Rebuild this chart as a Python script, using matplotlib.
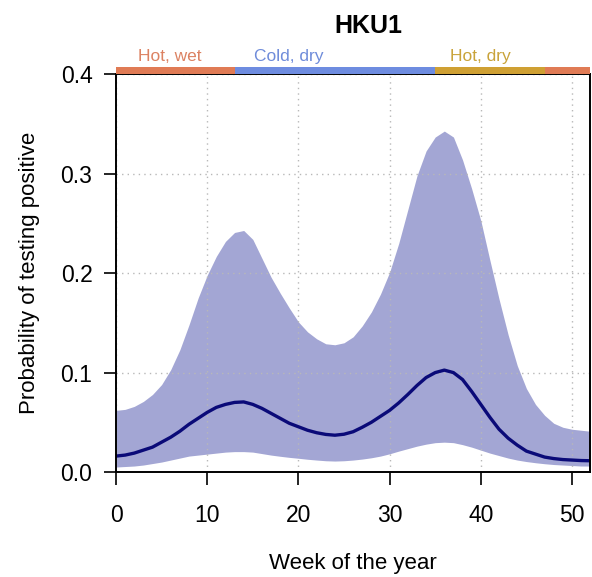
import matplotlib

matplotlib.use("Agg")
import matplotlib.pyplot as plt
from matplotlib.patches import Rectangle

plt.rcParams["font.family"] = ["Liberation Sans", "DejaVu Sans"]

# one value per week of the year
WEEKS = list(range(53))
UPPER = [
    0.062, 0.063, 0.066, 0.071, 0.078, 0.088, 0.103, 0.123, 0.148, 0.175,
    0.198, 0.217, 0.232, 0.241, 0.243, 0.234, 0.215, 0.196, 0.180, 0.165,
    0.151, 0.141, 0.134, 0.129, 0.128, 0.130, 0.136, 0.147, 0.161, 0.179,
    0.201, 0.230, 0.264, 0.298, 0.323, 0.337, 0.343, 0.337, 0.314, 0.285,
    0.253, 0.213, 0.174, 0.138, 0.107, 0.084, 0.068, 0.057, 0.049, 0.045,
    0.043, 0.042, 0.041,
]
MEAN = [
    0.016, 0.017, 0.019, 0.022, 0.025, 0.030, 0.035, 0.041, 0.048, 0.054,
    0.060, 0.065, 0.068, 0.070, 0.0705, 0.068, 0.064, 0.059, 0.054, 0.049,
    0.0455, 0.042, 0.0395, 0.0378, 0.037, 0.038, 0.0405, 0.045, 0.050, 0.056,
    0.062, 0.0695, 0.078, 0.087, 0.095, 0.100, 0.1025, 0.100, 0.093, 0.081,
    0.068, 0.055, 0.043, 0.034, 0.027, 0.021, 0.018, 0.015, 0.0135, 0.0125,
    0.012, 0.0115, 0.0113,
]
LOWER = [
    0.005, 0.0055, 0.006, 0.007, 0.0085, 0.010, 0.012, 0.014, 0.016, 0.017,
    0.018, 0.019, 0.020, 0.0205, 0.0205, 0.020, 0.0185, 0.017, 0.0158, 0.0147,
    0.0138, 0.0128, 0.012, 0.0113, 0.011, 0.0113, 0.012, 0.013, 0.0143, 0.016,
    0.0183, 0.021, 0.0235, 0.026, 0.028, 0.0295, 0.030, 0.0295, 0.0275, 0.025,
    0.022, 0.019, 0.0165, 0.014, 0.012, 0.0105, 0.0093, 0.0083, 0.0075, 0.007,
    0.0065, 0.006, 0.006,
]

SEASON_START = [0, 13, 35, 47]
SEASON_END = [13, 35, 47, 52]
SEASON_COLOR = ["#E07B55", "#6E8CE0", "#CFA033", "#E07B55"]
SEASON_LABEL = ["Hot, wet", "Cold, dry", "Hot, dry"]
SEASON_LABEL_X = [5.9, 18.9, 39.9]
SEASON_TEXT_COLOR = ["#DC8262", "#6F8CDA", "#C9A33A"]

fig = plt.figure(figsize=(5.92, 5.77), dpi=100)
ax = fig.add_axes([0.196, 0.182, 0.801, 0.689])

ax.fill_between(WEEKS, LOWER, UPPER, color="#A3A6D4", linewidth=0, zorder=1)
ax.plot(WEEKS, MEAN, color="#0A0A78", linewidth=2.4, zorder=3,
        solid_joinstyle="round", solid_capstyle="round")

ax.set_xlim(0, 52)
ax.set_ylim(0, 0.4)
ax.set_xticks([0, 10, 20, 30, 40, 50])
ax.set_yticks([0.0, 0.1, 0.2, 0.3, 0.4])
ax.set_yticklabels(["0.0", "0.1", "0.2", "0.3", "0.4"])
ax.grid(True, linestyle=(0, (1, 3)), color="#B8B8B8", linewidth=1.0, zorder=2)
ax.set_axisbelow(False)
for sp in ax.spines.values():
    sp.set_linewidth(1.4)
    sp.set_zorder(4)
ax.tick_params(axis="x", direction="out", length=9, width=1.2, pad=14, labelsize=16.5)
ax.tick_params(axis="y", direction="out", length=9, width=1.2, pad=8, labelsize=16.5)

ax.set_xlabel("Week of the year", fontsize=16, labelpad=19)
ax.set_ylabel("Probability of testing positive", fontsize=16, labelpad=15)

# season bar above the plot
trans = ax.get_xaxis_transform()
for s, e, c in zip(SEASON_START, SEASON_END, SEASON_COLOR):
    ax.add_patch(Rectangle((s, 1.0), e - s, 0.018, transform=trans,
                           facecolor=c, edgecolor="none", clip_on=False, zorder=5))
for lab, x, c in zip(SEASON_LABEL, SEASON_LABEL_X, SEASON_TEXT_COLOR):
    ax.text(x, 1.034, lab, transform=trans, ha="center", va="baseline",
            fontsize=12.5, color=c)

fig.text(0.623, 0.943, "HKU1", ha="center", va="baseline",
         fontsize=18, fontweight="bold")

fig.savefig("out.png", dpi=100)
